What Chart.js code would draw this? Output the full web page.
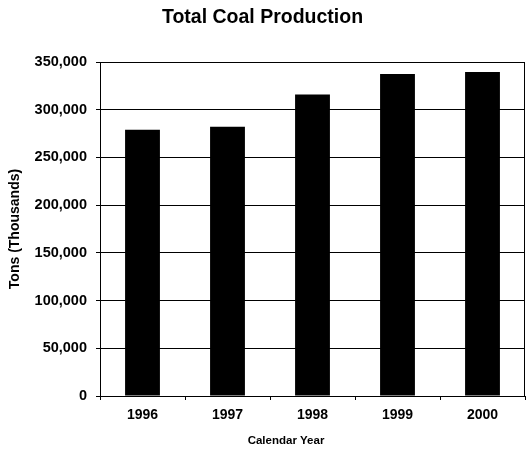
<!DOCTYPE html>
<html>
<head>
<meta charset="utf-8">
<script src="https://cdn.jsdelivr.net/npm/chart.js@4.4.1/dist/chart.umd.min.js"></script>
<style>
  html, body { margin: 0; padding: 0; background: #fff; }
  #wrap { width: 527px; height: 453px; position: relative; }
</style>
</head>
<body>
<div id="wrap"><canvas id="c" width="527" height="453"></canvas></div>
<script>
const categories = ["1996", "1997", "1998", "1999", "2000"];
const production = [279000, 282100, 316000, 337400, 339500];
const yTickMin = 0;
const yTickMax = 350000;
const yTickStep = 50000;
const chartTitle = "Total Coal Production";
const xTitle = "Calendar Year";
const yTitle = "Tons (Thousands)";

const FONT = "'Liberation Sans', Arial, Helvetica, sans-serif";

const extras = {
  id: 'extras',
  afterDatasetsDraw(chart) {
    const a = chart.chartArea, ctx = chart.ctx;
    ctx.save();
    ctx.strokeStyle = '#000';
    ctx.lineWidth = 1;
    ctx.beginPath();
    ctx.moveTo(Math.round(a.right) - 0.5, a.top);
    ctx.lineTo(Math.round(a.right) - 0.5, a.bottom);
    ctx.stroke();
    ctx.restore();
  },
  afterDraw(chart) {
    const ctx = chart.ctx;
    ctx.save();
    ctx.fillStyle = '#000';
    ctx.font = "bold 11.5px " + FONT;
    ctx.textAlign = 'center';
    ctx.textBaseline = 'middle';
    ctx.fillText(xTitle, 286, 440.5);
    ctx.restore();
  }
};

new Chart(document.getElementById('c'), {
  type: 'bar',
  data: {
    labels: categories,
    datasets: [{
      data: production,
      backgroundColor: '#000',
      borderWidth: 0,
      barPercentage: 0.41,
      categoryPercentage: 1.0
    }]
  },
  options: {
    responsive: false,
    animation: false,
    devicePixelRatio: 1,
    layout: { padding: { left: 0, right: 2, top: 0, bottom: 0 } },
    plugins: {
      legend: { display: false },
      tooltip: { enabled: false },
      title: {
        display: true,
        text: chartTitle,
        color: '#000',
        font: { family: FONT, size: 19.5, weight: 'bold', lineHeight: 1.2 },
        padding: { top: 6, bottom: 32.6 }
      }
    },
    scales: {
      x: {
        grid: {
          display: true,
          drawOnChartArea: false,
          drawTicks: true,
          tickLength: 4,
          color: '#000',
          lineWidth: 1,
          offset: true
        },
        border: { display: true, color: '#000', width: 1 },
        ticks: {
          color: '#000',
          padding: 6.5,
          font: { family: FONT, size: 14, weight: 'bold' },
          maxRotation: 0
        },
        title: { display: false },
        afterFit(scale) { scale.height = 57; }
      },
      y: {
        min: yTickMin,
        max: yTickMax,
        grid: {
          color: '#000',
          lineWidth: 1,
          tickLength: 4,
          drawTicks: true
        },
        border: { display: true, color: '#000', width: 1 },
        ticks: {
          stepSize: yTickStep,
          color: '#000',
          padding: 9,
          font: { family: FONT, size: 14.5, weight: 'bold' }
        },
        title: {
          display: true,
          text: yTitle,
          color: '#000',
          font: { family: FONT, size: 14, weight: 'bold', lineHeight: 1.2 },
          padding: { top: 6.6, bottom: 0 }
        },
        afterFit(scale) { scale.width = 100; }
      }
    }
  },
  plugins: [extras]
});
</script>
</body>
</html>
